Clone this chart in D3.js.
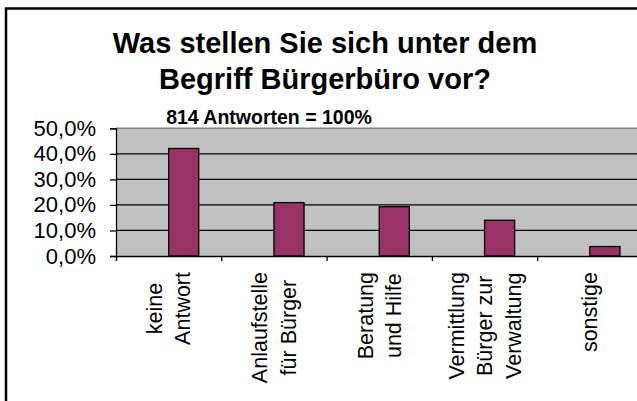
<!DOCTYPE html>
<meta charset="utf-8">
<html>
    <head>
        <script src="https://d3js.org/d3.v7.min.js"></script>
    </head>
    <style>
        body { margin: 0; background: #fff; }
        text { font-family: "Liberation Sans", Arial, sans-serif; }
    </style>
    <body>
        <div id="bar_viz"></div>
        <script>

            // Data
            var categories = ["keine\nAntwort", "Anlaufstelle\nfür Bürger", "Beratung\nund Hilfe", "Vermittlung\nBürger zur\nVerwaltung", "sonstige"]
            var values = [42.1, 20.9, 19.3, 14.0, 3.7]
            var yTicks = [0, 10, 20, 30, 40, 50]
            var titleLines = ["Was stellen Sie sich unter dem", "Begriff Bürgerbüro vor?"]
            var subtitle = "814 Antworten = 100%"

            var width = 637, height = 401
            // plot area edges (right edge runs past the window)
            var plotLeft = 116, plotRight = 642.5, plotTop = 128.3, plotBottom = 256

            var svg = d3.select("#bar_viz")
                .append("svg")
                .attr("width", width)
                .attr("height", height)

            // outer frame (runs off the right and bottom edge)
            svg.append("rect")
                .attr("x", 6).attr("y", 8.5)
                .attr("width", 700).attr("height", 500)
                .attr("fill", "white")
                .attr("stroke", "black")
                .attr("stroke-width", 2.5)

            var x = d3.scaleBand().domain(categories).range([plotLeft, plotRight]).padding(0)
            // two series in the original sheet, the first one empty
            var xs = d3.scaleBand().domain(["leer", "Anteil"]).range([0, x.bandwidth()]).paddingInner(0).paddingOuter(0.75)
            var y = d3.scaleLinear().domain([0, 50]).range([plotBottom, plotTop])
            var xb = d3.scaleLinear().domain([0, categories.length]).range([plotLeft, plotRight])

            // plot area
            svg.append("rect")
                .attr("x", plotLeft).attr("y", y(50))
                .attr("width", plotRight - plotLeft).attr("height", y(0) - y(50))
                .attr("fill", "#c0c0c0")

            svg.append("g")
                .selectAll("line")
                .data(yTicks.filter(d => d > 0))
                .join("line")
                .attr("x1", plotLeft).attr("x2", plotRight)
                .attr("y1", d => y(d)).attr("y2", d => y(d))
                .attr("stroke", d => d === 50 ? "#808080" : "black")
                .attr("stroke-width", d => d === 50 ? 1.5 : 1.2)

            // bars
            svg.append("g")
                .selectAll("rect")
                .data(values)
                .join("rect")
                .attr("x", (d, i) => x(categories[i]) + xs("Anteil"))
                .attr("y", d => y(d))
                .attr("width", xs.bandwidth())
                .attr("height", d => y(0) - y(d))
                .attr("fill", "#993366")
                .attr("stroke", "black")
                .attr("stroke-width", 1.3)

            // y axis
            var yAxis = svg.append("g")
                .attr("transform", `translate(${plotLeft},0)`)
                .call(d3.axisLeft(y).tickValues(yTicks).tickSize(6).tickPadding(14)
                    .tickFormat(d => d.toFixed(1).replace(".", ",") + "%"))
            yAxis.select(".domain").attr("stroke", "black").attr("stroke-width", 1.3)
            yAxis.selectAll(".tick line").attr("stroke", "black").attr("stroke-width", 1.3)
            yAxis.selectAll(".tick text")
                .attr("font-family", "'Liberation Sans', Arial, sans-serif")
                .attr("font-size", 22)
                .attr("fill", "black")

            // x axis, ticks between categories
            var xAxis = svg.append("g")
                .attr("transform", `translate(0,${plotBottom})`)
                .call(d3.axisBottom(xb).tickValues(d3.range(0, categories.length + 1)).tickSize(5).tickFormat(""))
            xAxis.select(".domain").attr("stroke", "black").attr("stroke-width", 1.3)
            xAxis.selectAll(".tick line").attr("stroke", "black").attr("stroke-width", 1.3)

            // rotated category labels
            var labels = svg.append("g")
                .attr("font-size", 21.5)
                .attr("text-anchor", "middle")
                .selectAll("text")
                .data(categories)
                .join("text")
                .attr("fill", "black")

            labels.selectAll("tspan")
                .data(d => {
                    var lines = d.split("\n")
                    return lines.map((t, i) => ({ t: t, off: (i - (lines.length - 1) / 2) * 28.5 }))
                })
                .join("tspan")
                .attr("x", 0)
                .attr("y", d => d.off)
                .attr("dy", "0.35em")
                .text(d => d.t)

            labels.attr("transform", function (d) {
                var maxW = d3.max(d3.select(this).selectAll("tspan").nodes(), n => n.getComputedTextLength())
                return `translate(${x(d) + x.bandwidth() / 2},${272 + maxW / 2}) rotate(-90)`
            })

            // titles
            svg.append("g")
                .attr("font-weight", "bold")
                .attr("font-size", 29)
                .attr("text-anchor", "middle")
                .selectAll("text")
                .data(titleLines)
                .join("text")
                .attr("x", 325)
                .attr("y", (d, i) => 53 + i * 36)
                .text(d => d)

            svg.append("text")
                .attr("x", 269)
                .attr("y", 124)
                .attr("text-anchor", "middle")
                .attr("font-weight", "bold")
                .attr("font-size", 19.5)
                .text(subtitle)

        </script>
    </body>
</html>
